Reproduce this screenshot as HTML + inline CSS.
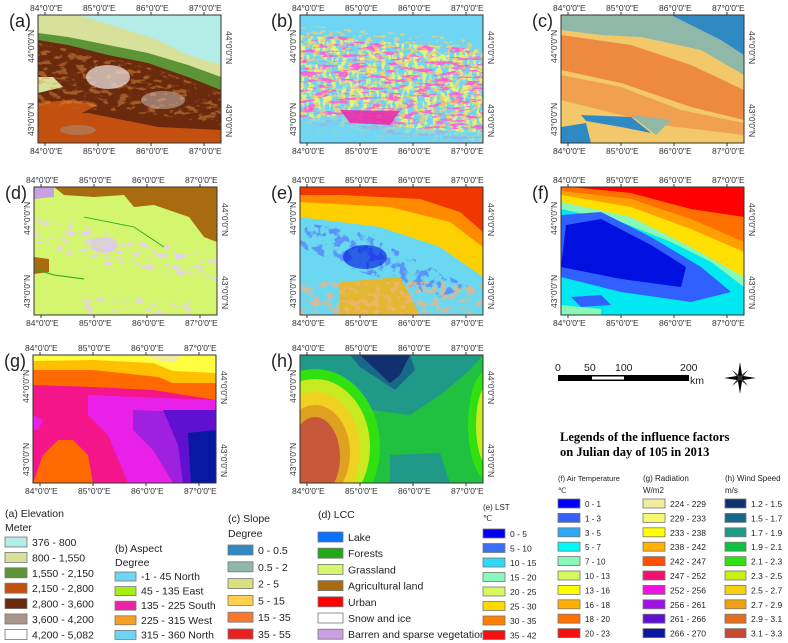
<!DOCTYPE html>
<html><head><meta charset="utf-8"><style>
html,body{margin:0;padding:0;background:#fff;}
svg{display:block;font-family:"Liberation Sans",sans-serif;}
.tk{font-size:8.5px;fill:#333;}
.lg{font-size:10.5px;fill:#222;}
</style></head><body>
<svg id="fig" width="788" height="643" viewBox="0 0 788 643">
<defs>
<clipPath id="mc"><rect x="0" y="0" width="183" height="128"/></clipPath>
<filter id="nOrange" x="0" y="0" width="100%" height="100%"><feTurbulence type="fractalNoise" baseFrequency="0.1 0.2" numOctaves="3" seed="5"/><feColorMatrix type="matrix" values="0 0 0 0 0.76  0 0 0 0 0.31  0 0 0 0 0.06  9 0 0 0 -4.8"/><feComposite in2="SourceGraphic" operator="in"/></filter>
<filter id="nMag" x="0" y="0" width="100%" height="100%"><feTurbulence type="fractalNoise" baseFrequency="0.06 0.28" numOctaves="3" seed="1"/><feColorMatrix type="matrix" values="0 0 0 0 0.93  0 0 0 0 0.13  0 0 0 0 0.67  9 0 0 0 -4.7"/><feComposite in2="SourceGraphic" operator="in"/></filter>
<filter id="nLime" x="0" y="0" width="100%" height="100%"><feTurbulence type="fractalNoise" baseFrequency="0.22 0.1" numOctaves="3" seed="7"/><feColorMatrix type="matrix" values="0 0 0 0 0.75  0 0 0 0 0.92  0 0 0 0 0.2  9 0 0 0 -4.3"/><feComposite in2="SourceGraphic" operator="in"/></filter>
<filter id="nAmber" x="0" y="0" width="100%" height="100%"><feTurbulence type="fractalNoise" baseFrequency="0.15 0.3" numOctaves="3" seed="9"/><feColorMatrix type="matrix" values="0 0 0 0 0.96  0 0 0 0 0.63  0 0 0 0 0.13  9 0 0 0 -5"/><feComposite in2="SourceGraphic" operator="in"/></filter>
<filter id="nRedOr" x="0" y="0" width="100%" height="100%"><feTurbulence type="fractalNoise" baseFrequency="0.15 0.15" numOctaves="3" seed="11"/><feColorMatrix type="matrix" values="0 0 0 0 0.93  0 0 0 0 0.45  0 0 0 0 0.2  9 0 0 0 -4.6"/><feComposite in2="SourceGraphic" operator="in"/></filter>
<filter id="nBlue" x="0" y="0" width="100%" height="100%"><feTurbulence type="fractalNoise" baseFrequency="0.12 0.12" numOctaves="3" seed="4"/><feColorMatrix type="matrix" values="0 0 0 0 0.1  0 0 0 0 0.3  0 0 0 0 0.95  9 0 0 0 -4.6"/><feComposite in2="SourceGraphic" operator="in"/></filter>
<filter id="nLilac" x="0" y="0" width="100%" height="100%"><feTurbulence type="fractalNoise" baseFrequency="0.1 0.18" numOctaves="3" seed="8"/><feColorMatrix type="matrix" values="0 0 0 0 0.79  0 0 0 0 0.63  0 0 0 0 0.88  9 0 0 0 -5"/><feComposite in2="SourceGraphic" operator="in"/></filter>
</defs>

<!-- (a) Elevation -->
<g transform="translate(38,15)">
<g clip-path="url(#mc)">
<rect width="183" height="128" fill="#6b2a0e"/>
<polygon points="0,0 183,0 183,75 150,62 110,48 70,40 30,30 0,25" fill="#5e9438"/>
<polygon points="0,0 183,0 183,62 150,50 110,38 70,30 30,22 0,18" fill="#d8e19a"/>
<polygon points="40,0 183,0 183,50 150,40 120,25 80,12" fill="#b4ece8"/>
<polygon points="0,62 15,62 25,72 0,78" fill="#d8e19a"/>
<polygon points="0,100 50,98 120,112 183,115 183,128 0,128" fill="#c3500f"/>
<polygon points="0,88 30,85 60,90 40,100 0,105" fill="#c3500f"/>
<polygon points="0,28 60,40 120,55 183,78 183,110 120,100 0,90" fill="#fff" filter="url(#nOrange)" opacity=".45"/>
<ellipse cx="70" cy="62" rx="22" ry="12" fill="#e8dcd8" opacity=".75"/>
<ellipse cx="125" cy="85" rx="22" ry="9" fill="#c8b8b0" opacity=".55"/>
<ellipse cx="40" cy="115" rx="18" ry="5" fill="#a89488" opacity=".5"/>
</g><rect width="183" height="128" fill="none" stroke="#333"/></g>

<!-- (b) Aspect -->
<g transform="translate(300,15)">
<g clip-path="url(#mc)">
<rect width="183" height="128" fill="#6fd5f5"/>
<polygon points="0,20 183,35 183,128 0,105" fill="#fff" filter="url(#nLime)"/>
<polygon points="0,18 183,35 183,128 0,110" fill="#fff" filter="url(#nMag)"/>
<polygon points="0,10 183,25 183,128 0,120" fill="#fff" filter="url(#nAmber)" opacity=".8"/>
<polygon points="0,105 40,100 100,112 183,118 183,128 0,128" fill="#6fd5f5" opacity=".7"/>
<polygon points="40,95 100,96 90,110 50,108" fill="#ee22aa" opacity=".85"/>
</g><rect width="183" height="128" fill="none" stroke="#333"/></g>

<!-- (c) Slope -->
<g transform="translate(561,15)">
<g clip-path="url(#mc)">
<rect width="183" height="128" fill="#f3c86a"/>
<polygon points="0,0 183,0 183,60 140,35 80,22 0,18" fill="#8fb8a8"/>
<polygon points="110,0 183,0 183,40 160,25 140,15" fill="#2f8ac4"/>
<polygon points="0,15 80,25 140,45 183,65 183,128 0,128" fill="#f3c86a"/>
<polygon points="0,20 70,30 130,50 183,75 183,105 130,92 60,68 0,55" fill="#ee8a40"/>
<polygon points="0,60 60,72 120,95 183,108 183,120 100,110 0,85" fill="#f0a050"/>
<polygon points="20,100 70,102 90,118 60,112 25,106" fill="#2f8ac4"/>
<polygon points="0,112 25,108 30,128 0,128" fill="#2f8ac4"/>
<polygon points="70,100 110,105 95,120" fill="#8fb8a8"/>
</g><rect width="183" height="128" fill="none" stroke="#333"/></g>

<!-- (d) LCC -->
<g transform="translate(34,187)">
<g clip-path="url(#mc)">
<rect width="183" height="128" fill="#d4f56e"/>
<polygon points="20,0 183,0 183,55 170,50 155,30 120,18 100,20 90,8 60,10 30,8" fill="#a86b10"/>
<polygon points="0,0 20,0 20,10 0,12" fill="#c9a0e0"/>
<polygon points="0,30 40,35 90,50 140,60 183,70 183,95 130,85 80,80 40,70 0,55" fill="#fff" filter="url(#nLilac)"/>
<ellipse cx="70" cy="58" rx="14" ry="8" fill="#e0c8ee" opacity=".8"/>
<polygon points="0,70 15,72 15,85 0,87" fill="#a86b10"/>
<polyline points="0,82 20,88 50,92" fill="none" stroke="#20a818" stroke-width="1"/>
<polyline points="50,30 100,40 130,60" fill="none" stroke="#20a818" stroke-width=".8"/>
<rect x="40" y="110" width="120" height="18" fill="#fff" filter="url(#nLilac)" opacity=".7"/>
</g><rect width="183" height="128" fill="none" stroke="#333"/></g>

<!-- (e) LST -->
<g transform="translate(300,187)">
<g clip-path="url(#mc)">
<rect width="183" height="128" fill="#6ad8f0"/>
<polygon points="0,0 183,0 183,90 140,60 80,40 0,30" fill="#ffd000"/>
<polygon points="0,0 183,0 183,60 150,35 90,20 0,15" fill="#ff8a00"/>
<polygon points="0,0 183,0 183,45 160,25 120,12 40,8 0,8" fill="#ee2000" opacity=".8"/>
<polygon points="0,35 60,45 110,70 170,100 140,110 60,85 0,60" fill="#fff" filter="url(#nBlue)"/>
<ellipse cx="65" cy="70" rx="22" ry="12" fill="#0010e0" opacity=".6"/>
<polygon points="40,95 100,90 120,128 40,128" fill="#ffb000" opacity=".8"/>
<rect x="0" y="95" width="183" height="33" fill="#fff" filter="url(#nRedOr)" opacity=".7"/>
</g><rect width="183" height="128" fill="none" stroke="#333"/></g>

<!-- (f) Air temperature -->
<g transform="translate(561,187)">
<g clip-path="url(#mc)">
<rect width="183" height="128" fill="#00e8f0"/>
<polygon points="0,0 183,0 183,100 150,75 110,55 60,35 0,22" fill="#88f8b8"/>
<polygon points="0,0 183,0 183,90 130,60 70,30 0,15" fill="#ffe000"/>
<polygon points="0,0 183,0 183,65 130,42 70,20 0,8" fill="#ffa000"/>
<polygon points="0,0 183,0 183,55 130,32 70,12 0,4" fill="#ff7000"/>
<polygon points="10,0 183,0 183,30 130,22 70,6" fill="#ff0000"/>
<polygon points="0,28 40,25 90,50 140,80 170,105 130,115 60,105 0,90" fill="#3060ff"/>
<polygon points="5,38 40,32 90,58 125,80 120,100 60,92 0,80" fill="#0010e0"/>
<polygon points="10,110 40,108 50,118 20,120" fill="#3060ff"/>
<polygon points="0,118 40,122 40,128 0,128" fill="#88f8b8"/>
</g><rect width="183" height="128" fill="none" stroke="#333"/></g>

<!-- (g) Radiation -->
<g transform="translate(33,355)">
<g clip-path="url(#mc)">
<rect width="183" height="128" fill="#f5158a"/>
<polygon points="0,0 183,0 183,45 120,35 60,32 0,30" fill="#ff6a00"/>
<polygon points="0,0 183,0 183,28 140,28 125,22 60,15 0,15" fill="#ffc000"/>
<polygon points="0,0 183,0 183,18 140,16 120,8 60,5 0,6" fill="#ffff40"/>
<polygon points="110,0 150,0 140,8 125,5" fill="#f0eca0"/>
<polygon points="55,40 183,45 183,128 95,128 75,80 55,60" fill="#e820e8"/>
<polygon points="100,55 183,58 183,128 140,128 120,95 100,75" fill="#a020e0"/>
<polygon points="130,55 183,55 183,128 150,128 145,90" fill="#6010d0"/>
<polygon points="155,78 183,75 183,128 158,128" fill="#0818a0"/>
<polygon points="0,128 10,100 25,85 40,85 55,100 60,128" fill="#ff6a00"/>
<polygon points="0,60 10,65 5,75 0,75" fill="#e820e8"/>
</g><rect width="183" height="128" fill="none" stroke="#333"/></g>

<!-- (h) Wind speed -->
<g transform="translate(300,355)">
<g clip-path="url(#mc)">
<rect width="183" height="128" fill="#20c040"/>
<polygon points="0,0 183,0 170,15 140,40 110,60 70,55 40,25 0,15" fill="#209a88"/>
<polygon points="50,0 110,0 115,15 95,35 80,25 60,12" fill="#186888"/>
<polygon points="60,0 110,0 100,20 90,28" fill="#103070"/>
<ellipse cx="15" cy="92" rx="65" ry="78" fill="#30e010"/>
<ellipse cx="15" cy="92" rx="55" ry="68" fill="#c8ea20"/>
<ellipse cx="15" cy="95" rx="45" ry="58" fill="#f0d020"/>
<ellipse cx="15" cy="98" rx="35" ry="48" fill="#e0a020"/>
<ellipse cx="15" cy="102" rx="25" ry="40" fill="#c8583a"/>
<ellipse cx="188" cy="70" rx="20" ry="55" fill="#30e010"/>
<ellipse cx="188" cy="70" rx="12" ry="40" fill="#c8ea20"/>
<polygon points="90,100 140,98 150,128 90,128" fill="#209a88"/>
</g><rect width="183" height="128" fill="none" stroke="#333"/></g>

<!-- Scale bar & north arrow -->
<g>
<text x="555" y="371" class="lg">0</text><text x="584" y="371" class="lg">50</text><text x="615" y="371" class="lg">100</text><text x="680" y="371" class="lg">200</text>
<rect x="558" y="375" width="131" height="6" fill="#000"/><rect x="592" y="376.5" width="32" height="3" fill="#fff"/>
<text x="690" y="384" class="lg">km</text>
</g>
<g transform="translate(740,378)">
<polygon points="0,-16 2.5,0 0,16 -2.5,0" fill="#000"/><polygon points="-16,0 0,-2.5 16,0 0,2.5" fill="#000"/>
<polygon points="-8,-8 1,-1 8,8 -1,1" fill="#333"/><polygon points="8,-8 1,1 -8,8 -1,-1" fill="#333"/>
</g>
<g style="font-family:'Liberation Serif',serif;font-weight:bold;font-size:12.5px">
<text x="560" y="441">Legends of the influence factors</text>
<text x="560" y="456">on Julian day of 105 in 2013</text>
</g>
<g id="axes"></g>
<g id="legends"></g>
</svg>
<script>
const NS='http://www.w3.org/2000/svg';
function T(parent,x,y,s,cls,rot){const t=document.createElementNS(NS,'text');t.setAttribute('x',x);t.setAttribute('y',y);t.setAttribute('class',cls);if(rot)t.setAttribute('transform','rotate('+rot+' '+x+' '+y+')');t.textContent=s;parent.appendChild(t);return t;}
const lonLabels=["84°0'0\"E","85°0'0\"E","86°0'0\"E","87°0'0\"E"];
const latLabels=["44°0'0\"N","43°0'0\"N"];
const panels=[["(a)",38,15],["(b)",300,15],["(c)",561,15],["(d)",34,187],["(e)",300,187],["(f)",561,187],["(g)",33,355],["(h)",300,355]];
const ax=document.getElementById('axes');
panels.forEach(p=>{
 const g=document.createElementNS(NS,'g');
 
 
 ax.appendChild(g);
 const x0=p[1],y0=p[2];
 const l=T(g,x0-29,y0+12,p[0],'lg');l.setAttribute('style','font-size:18px');
 lonLabels.forEach((s,i)=>{const cx=x0+7+i*53;T(g,cx-15,y0-4,s,'tk');T(g,cx-15,y0+139,s,'tk');
  [[y0-3,y0],[y0+128,y0+131]].forEach(v=>{const ln=document.createElementNS(NS,'line');ln.setAttribute('x1',cx);ln.setAttribute('x2',cx);ln.setAttribute('y1',v[0]);ln.setAttribute('y2',v[1]);ln.setAttribute('stroke','#333');g.appendChild(ln);});});
 latLabels.forEach((s,i)=>{const cy=y0+32+i*73;T(g,x0-4,cy+16,s,'tk',-90);T(g,x0+188,cy-16,s,'tk',90);});
});
const lg=document.getElementById('legends');
function legend(name,x,y,title,unit,step,sw,sh,cols,labs,ty,uy,fs){
 const g=document.createElementNS(NS,'g');
 
 
 lg.appendChild(g);
 if(title){const t=T(g,x,ty,title,'lg');if(fs)t.setAttribute('style','font-size:'+fs+'px');}
 if(unit){const t=T(g,x,uy,unit,'lg');if(fs)t.setAttribute('style','font-size:'+fs+'px');}
 cols.forEach((c,i)=>{const r=document.createElementNS(NS,'rect');r.setAttribute('x',x);r.setAttribute('y',y+i*step);r.setAttribute('width',sw);r.setAttribute('height',sh);r.setAttribute('fill',c);r.setAttribute('stroke','#777');r.setAttribute('stroke-width','0.8');g.appendChild(r);
  const t=T(g,x+sw+5,y+i*step+sh-1,labs[i],'lg');if(fs)t.setAttribute('style','font-size:'+(fs+0.5)+'px');});
}
const elevCols=['#b4ece8','#d8e19a','#5e9438','#c3500f','#6b2a0e','#a89488','#ffffff'];
const elevLabs=['376 - 800','800 - 1,550','1,550 - 2,150','2,150 - 2,800','2,800 - 3,600','3,600 - 4,200','4,200 - 5,082'];
const aspCols=['#6fd5f5','#a8ee10','#ee22aa','#f5a020','#6fd5f5'];
const aspLabs=['-1 - 45 North','45 - 135 East','135 - 225 South','225 - 315 West','315 - 360 North'];
const slpCols=['#2f8ac4','#8fb8a8','#d8e080','#ffd050','#f87830','#e82020'];
const slpLabs=['0 - 0.5','0.5 - 2','2 - 5','5 - 15','15 - 35','35 - 55'];
const lccCols=['#0a70ff','#20a818','#d8f570','#a86b10','#ff0000','#ffffff','#c9a0e0'];
const lccLabs=['Lake','Forests','Grassland','Agricultural land','Urban','Snow and ice','Barren and sparse vegetation'];
const lstCols=['#0000f0','#3870f8','#30d8f8','#88f8c0','#d8f860','#ffd800','#ff8000','#f81010'];
const lstLabs=['0 - 5','5 - 10','10 - 15','15 - 20','20 - 25','25 - 30','30 - 35','35 - 42'];
const atCols=['#0000f0','#3860f8','#30a8f8','#00f8f8','#88f8b8','#d8f860','#ffff00','#ffb000','#ff7000','#f81010'];
const atLabs=['0 - 1','1 - 3','3 - 5','5 - 7','7 - 10','10 - 13','13 - 16','16 - 18','18 - 20','20 - 23'];
const radCols=['#f0eca0','#f8f870','#ffff00','#ffb000','#ff5000','#f01070','#f010e0','#a010e8','#6010d0','#0818a0'];
const radLabs=['224 - 229','229 - 233','233 - 238','238 - 242','242 - 247','247 - 252','252 - 256','256 - 261','261 - 266','266 - 270'];
const wsCols=['#103070','#186888','#209a88','#10c040','#30e010','#c8f010','#f8d010','#f0a010','#e07020','#c84830'];
const wsLabs=['1.2 - 1.5','1.5 - 1.7','1.7 - 1.9','1.9 - 2.1','2.1 - 2.3','2.3 - 2.5','2.5 - 2.7','2.7 - 2.9','2.9 - 3.1','3.1 - 3.3'];
legend('legend-elevation',5,537,'(a) Elevation','Meter',15.4,22,10,elevCols,elevLabs,517,531);
legend('legend-aspect',115,572,'(b) Aspect','Degree',14.6,21,9,aspCols,aspLabs,552,566);
legend('legend-slope',228,545,'(c) Slope','Degree',16.8,25,10,slpCols,slpLabs,522,537);
legend('legend-lcc',318,532,'(d) LCC','',16.2,25,10,lccCols,lccLabs,518,0);
legend('legend-lst',483,529,'(e) LST','℃',14.5,22,9,lstCols,lstLabs,510,521,8);
legend('legend-air-temperature',558,499,'(f) Air Temperature','℃',14.4,22,9,atCols,atLabs,481,493,7.5);
legend('legend-radiation',643,499,'(g) Radiation','W/m2',14.4,22,9,radCols,radLabs,481,493,8);
legend('legend-wind-speed',725,499,'(h) Wind Speed','m/s',14.4,21,9,wsCols,wsLabs,481,493,8);
</script>
</body></html>
